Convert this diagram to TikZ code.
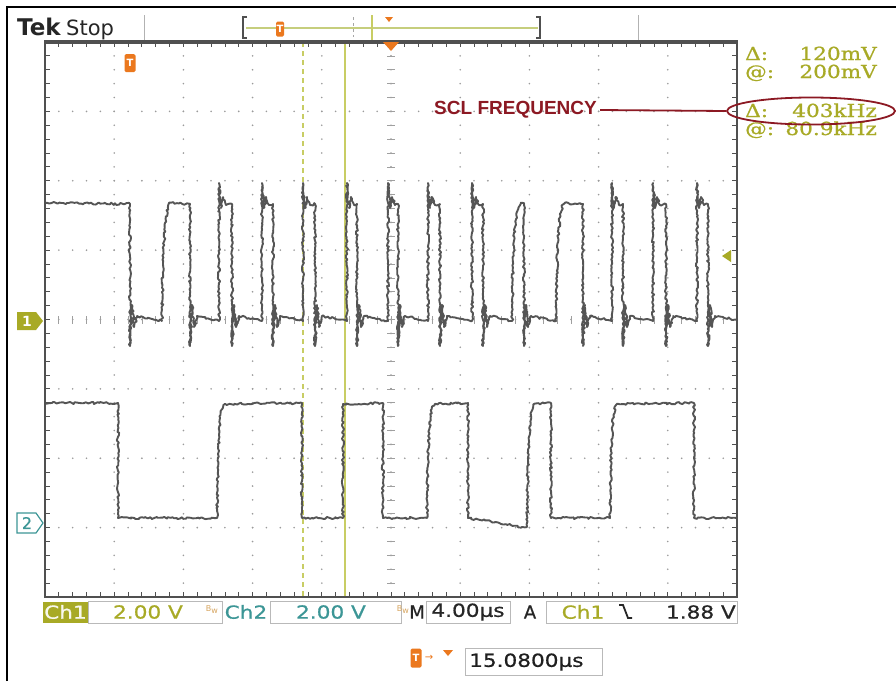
\documentclass[tikz,border=0pt]{standalone}
\usepackage{fontspec}
\usepackage{graphicx}
\usetikzlibrary{shapes.geometric,decorations.pathmorphing}
\newfontfamily\scopefont{DejaVu Sans}
\newfontfamily\scopefontm[FakeBold=0.7]{DejaVu Sans}
\newfontfamily\readfont[FakeBold=0.8]{DejaVu Serif}
\newfontfamily\labelfont{Liberation Sans}
\definecolor{olv}{RGB}{168,170,38}
\definecolor{tealc}{RGB}{60,150,150}
\definecolor{orng}{RGB}{235,120,30}
\definecolor{curs}{RGB}{200,205,100}
\definecolor{barg}{RGB}{198,206,125}
\definecolor{dred}{RGB}{140,25,35}
\definecolor{wavec}{RGB}{85,85,85}
\definecolor{gridc}{RGB}{155,155,155}
\definecolor{bordc}{RGB}{80,80,80}
\definecolor{tanc}{RGB}{215,165,95}
\newcommand{\wide}[1]{\scalebox{1.2}[1]{#1}}
\newcommand{\rdsz}{\fontsize{18pt}{18pt}\selectfont}
\newcommand{\stsz}{\fontsize{18pt}{18pt}\selectfont}
\begin{document}
\begin{tikzpicture}[x=1pt,y=-1pt,
  wave/.style={draw=wavec,line width=1.9pt,line join=round,decorate,
    decoration={random steps,segment length=2pt,amplitude=1.1pt}},
  griddot/.style={fill=gridc},
  tickl/.style={draw=bordc,line width=0.8pt},
  rdtxt/.style={text=olv,font=\readfont\rdsz,inner sep=0pt},
  sttxt/.style={font=\scopefontm\stsz,inner sep=0pt},
  stbox/.style={draw=gray!55,line width=0.8pt},
  aF/.style={insert path={-- (#1,204) -- (#1,346) -- ({#1+2},305) -- ({#1+4},327) -- ({#1+7},316)}},
  aR/.style={insert path={-- (#1,321) -- (#1,183) -- ({#1+2},208) -- ({#1+4},197) -- ({#1+7},205)}},
  aS/.style={insert path={-- (#1,321) .. controls ({#1+1},240) and ({#1+3},205) .. ({#1+9},203)}},
  bF/.style={insert path={-- (#1,403) -- (#1,518)}},
  bR/.style={insert path={-- (#1,518) .. controls ({#1+1},440) and ({#1+2},407) .. ({#1+8},404)}},
  bQ/.style={insert path={-- (#1,518) -- (#1,404)}},
  tmark/.style={fill=orng,rounded corners=1.5pt,minimum width=10pt,minimum height=17pt,inner sep=0pt,
    text=white,font=\scopefont\bfseries\fontsize{10pt}{10pt}\selectfont}
]
\pgfmathsetseed{7}
\useasboundingbox (0,0) rectangle (896,681);
\fill[white] (0,0) rectangle (896,681);
% outer frame
\draw[line width=2pt,black] (7,681) -- (7,7) -- (896,7);

% ---------- top bar ----------
\node[anchor=base west,inner sep=0pt,text=black!85,font=\scopefont\bfseries\fontsize{23pt}{23pt}\selectfont] (tek) at (17,35) {Tek};
\node[anchor=base west,inner sep=0pt,text=black!85,font=\scopefont\fontsize{21pt}{21pt}\selectfont] (stop) at (66,35) {Stop};
\draw[gray!60,line width=0.8pt] (144,15) -- (144,40);
\draw[gray!60,line width=0.8pt] (638,15) -- (638,40);
\draw[barg,line width=1.6pt] (246,28) -- (538,28);
\draw[bordc,line width=1.4pt] (247,17) -- (243,17) -- (243,38) -- (247,38);
\draw[bordc,line width=1.4pt] (536,17) -- (540,17) -- (540,38) -- (536,38);
\node[tmark,minimum width=8pt,minimum height=15pt] (tbar) at (280,29) {T};
\draw[gray!70,line width=1pt,dashed] (353,17) -- (353,37);
\draw[curs,line width=1.2pt] (372,15) -- (372,41);
\fill[orng] (385,17) -- (393,17) -- (389,22) -- cycle;

% ---------- graticule ----------
\foreach \i in {1,...,9}
  \foreach \j in {1,...,39}
    \fill[griddot] ({45+69.2*\i},{42+13.875*\j}) circle (0.9pt);
\foreach \k in {1,...,7}
  \foreach \j in {1,...,49}
    \fill[griddot] ({45+13.84*\j},{42+69.375*\k}) circle (0.9pt);
% centre line ticks
\foreach \j in {1,...,39}
  \draw[gray!75,line width=0.7pt] (387,{42+13.875*\j}) -- (395,{42+13.875*\j});
\foreach \j in {1,...,49}
  \draw[gray!75,line width=0.7pt] ({45+13.84*\j},316) -- ({45+13.84*\j},324);
% border ticks
\foreach \j in {1,...,39} {
  \draw[tickl] (45,{42+13.875*\j}) -- (50,{42+13.875*\j});
  \draw[tickl] (732,{42+13.875*\j}) -- (737,{42+13.875*\j});
}
\foreach \j in {1,...,49} {
  \draw[tickl] ({45+13.84*\j},42) -- ({45+13.84*\j},47);
  \draw[tickl] ({45+13.84*\j},592) -- ({45+13.84*\j},597);
}

% cursors
\draw[curs,line width=1.2pt,dash pattern=on 5pt off 4pt] (303,42) -- (303,597);
\draw[curs,line width=1.3pt] (345,42) -- (345,597);

% ---------- waveforms ----------
\draw[wave] (45,203) [aF=130] [aS=162] [aF=190] [aR=219] [aF=232] [aR=262] [aF=273]
  [aR=303] [aF=315] [aR=347] [aF=357] [aR=388] [aF=398] [aR=428] [aF=440] [aR=472] [aF=483]
  [aS=512] [aF=524] [aS=556] [aF=583] [aR=612] [aF=623] [aR=653] [aF=666] [aR=697] [aF=708]
  -- (737,320);
\draw[wave] (45,403) [bF=118] [bR=217] [bF=302] [bQ=343] [bF=383] [bR=427] [bF=468]
  -- (495,522) -- (522,527) -- (527,527) .. controls (528,440) and (529,407) .. (535,404)
  [bF=551] [bR=610] [bF=694] -- (737,518);

% graticule border
\draw[bordc,line width=2.2pt] (45,42) rectangle (737,597);
\draw[bordc,line width=3.2pt] (44,42) -- (738,42);

% markers inside graticule
\node[tmark,minimum width=11pt,minimum height=18pt] (tgr) at (130,63) {T};
\fill[orng] (383,42) -- (399,42) -- (391,51) -- cycle;
\fill[olv] (722,256) -- (731,250) -- (731,262) -- cycle;

% channel markers
\fill[olv] (17,312) -- (36,312) -- (43,321) -- (36,330) -- (17,330) -- cycle;
\node[text=white,font=\scopefont\bfseries\fontsize{14pt}{14pt}\selectfont,inner sep=0pt] (m1) at (27,321) {1};
\draw[tealc,line width=1.2pt] (17,513) -- (36,513) -- (43,523) -- (36,533) -- (17,533) -- cycle;
\node[text=tealc,font=\scopefontm\fontsize{16pt}{16pt}\selectfont,inner sep=0pt] (m2) at (27,523) {2};

% ---------- readouts ----------
\node[rdtxt,anchor=base west] (d1) at (745,60) {\wide{Δ:}};
\node[rdtxt,anchor=base east] (v1) at (877,60) {\wide{120mV}};
\node[rdtxt,anchor=base west] (a1) at (745,78) {\wide{@:}};
\node[rdtxt,anchor=base east] (w1) at (877,78) {\wide{200mV}};
\node[rdtxt,anchor=base west] (d2) at (745,117) {\wide{Δ:}};
\node[rdtxt,anchor=base east] (v2) at (877,117) {\wide{403kHz}};
\node[rdtxt,anchor=base west] (a2) at (745,135) {\wide{@:}};
\node[rdtxt,anchor=base east] (w2) at (877,135) {\wide{80.9kHz}};

\node[ellipse,draw=dred,line width=1.8pt,minimum width=168pt,minimum height=27pt,inner sep=0pt] (ell) at (811,111) {};
\node[anchor=east,inner sep=0pt,text=dred,font=\labelfont\bfseries\fontsize{19pt}{19pt}\selectfont] (scl) at (597,110) {SCL FREQUENCY};
\draw[dred,line width=1.8pt] ([xshift=3pt]scl.east) -- (ell.west);

% ---------- status bar ----------
\node[fill=olv,minimum width=45pt,minimum height=21pt,inner sep=0pt] (ch1box) at (65.5,612) {};
\node[sttxt,text=white!92!olv] (ch1) at (ch1box) {\wide{Ch1}};
\draw[stbox] (88,601) rectangle (222,623);
\node[sttxt,text=olv] (v1s) at (148,612) {\wide{2.00 V}};
\node[text=tanc,font=\scopefont\fontsize{8pt}{8pt}\selectfont,inner sep=0pt] (bw1) at (212,610) {B\raisebox{-2pt}{w}};
\node[sttxt,text=tealc] (ch2) at (246,612) {\wide{Ch2}};
\draw[stbox] (270,601) rectangle (401,623);
\node[sttxt,text=tealc] (v2s) at (331,612) {\wide{2.00 V}};
\node[text=tanc,font=\scopefont\fontsize{8pt}{8pt}\selectfont,inner sep=0pt] (bw2) at (403,610) {B\raisebox{-2pt}{w}};
\node[sttxt,text=black!85,anchor=east] (mm) at (425,612) {M};
\draw[stbox] (426,601) rectangle (510,623);
\node[sttxt,text=black!85] (tb) at (468,612) {\wide{4.00μs}};
\node[sttxt,text=black!85] (aa) at (530,612) {A};
\draw[stbox] (546,601) rectangle (737,623);
\node[sttxt,text=olv] (trc) at (583,612) {\wide{Ch1}};
\draw[black!85,line width=1.8pt] (619,605) -- (623,605) -- (628,618) -- (632,618);
\node[sttxt,text=black!85,anchor=east] (trl) at (736,612) {\wide{1.88 V}};

% ---------- bottom trigger position ----------
\node[tmark,minimum width=11pt,minimum height=19pt] (tbot) at (416,658) {T};
\node[text=orng,font=\scopefont\fontsize{10pt}{10pt}\selectfont,inner sep=0pt] (arr) at (429,658) {→};
\fill[orng] (443,650) -- (453,650) -- (448,656) -- cycle;
\draw[stbox] (465,648) rectangle (602,675);
\node[sttxt,text=black!88,anchor=west] (tpos) at (469,662) {\wide{15.0800μs}};
\end{tikzpicture}
\end{document}
